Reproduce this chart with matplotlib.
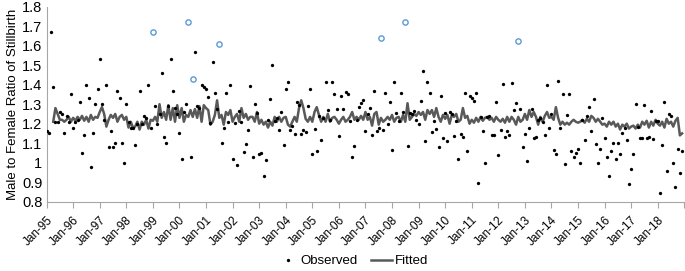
import numpy as np
import pandas as pd
import matplotlib
matplotlib.use("Agg")
import matplotlib.pyplot as plt

plt.rcParams['font.family'] = ['Liberation Sans', 'DejaVu Sans']

# Monthly male/female stillbirth ratio, Jan-1995 .. Dec-2018 (one row per year)
observed = [
    1.16, 1.15, 1.67, 1.39, 1.21, 1.21, 1.26, 1.25, 1.15, 1.24, 1.21, 1.35,    # 1995
    1.18, 1.21, 1.22, 1.31, 1.05, 1.14, 1.40, 1.33, 0.98, 1.15, 1.30, 1.38,    # 1996
    1.53, 1.30, 1.22, 1.40, 1.08, 1.16, 1.08, 1.10, 1.37, 1.33, 1.10, 1.00,    # 1997
    1.30, 1.21, 1.18, 1.18, 1.09, 1.20, 1.37, 1.20, 1.24, 1.23, 1.40, 1.18,    # 1998
    1.67, 1.29, 1.20, 1.25, 1.46, 1.13, 1.10, 1.29, 1.53, 1.37, 1.28, 1.25,    # 1999
    1.15, 1.02, 1.26, 1.30, 1.72, 1.03, 1.43, 1.57, 1.29, 1.28, 1.40, 1.39,    # 2000
    1.38, 1.335, 1.205, 1.515, 1.355, 1.275, 1.61, 1.10, 1.18, 1.355, 1.21, 1.40,  # 2001
    1.02, 1.205, 0.99, 1.265, 1.21, 1.055, 1.095, 1.17, 1.395, 1.03, 1.30, 1.255,  # 2002
    1.045, 1.05, 0.93, 1.015, 1.22, 1.325, 1.50, 1.215, 1.23, 1.17, 1.26, 1.09,   # 2003
    1.38, 1.415, 1.17, 1.19, 1.145, 1.31, 1.295, 1.145, 1.17, 1.155, 1.29, 1.38,  # 2004
    1.045, 1.175, 1.06, 1.24, 1.115, 1.23, 1.415, 1.27, 1.22, 1.415, 1.35, 1.275, # 2005
    1.135, 1.34, 1.275, 1.365, 1.35, 1.215, 1.03, 1.085, 1.22, 1.285, 1.305, 1.32, # 2006
    1.16, 1.25, 1.28, 1.14, 1.37, 1.16, 1.18, 1.64, 1.17, 1.36, 1.20, 1.31,    # 2007
    1.065, 1.415, 1.255, 1.215, 1.355, 1.26, 1.72, 1.085, 1.255, 1.25, 1.265, 1.22, # 2008
    1.20, 1.315, 1.47, 1.11, 1.415, 1.355, 1.155, 1.215, 1.175, 1.08, 1.34, 1.125, # 2009
    1.255, 1.11, 1.26, 1.25, 1.135, 1.215, 1.02, 1.145, 1.13, 1.355, 1.06, 1.34,  # 2010
    1.33, 1.315, 1.355, 0.895, 1.235, 1.165, 1.00, 1.235, 1.24, 1.14, 1.14, 1.31, # 2011
    1.04, 1.17, 1.405, 1.13, 1.16, 1.14, 1.41, 1.27, 1.305, 1.625, 1.275, 1.08,   # 2012
    1.145, 1.01, 1.18, 1.275, 1.125, 1.13, 1.22, 1.23, 1.21, 1.14, 1.40, 1.18,   # 2013
    1.25, 1.065, 1.045, 1.42, 1.18, 1.35, 0.995, 1.245, 1.35, 1.06, 1.03, 1.05,  # 2014
    1.07, 1.00, 1.22, 1.115, 1.24, 1.285, 1.165, 1.325, 1.095, 1.00, 1.07, 1.23,  # 2015
    1.125, 1.03, 0.93, 1.06, 1.10, 1.02, 1.10, 1.045, 1.15, 1.18, 1.115, 0.89,   # 2016
    0.965, 1.045, 1.30, 1.185, 1.125, 1.125, 1.295, 1.125, 1.13, 1.265, 1.12, 1.215, # 2017
    1.215, 0.845, 1.09, 1.31, 0.955, 1.25, 1.24, 1.00, 0.875, 1.07, 0.945, 1.06,  # 2018
]

# months flagged as outliers (drawn as open blue circles)
outlier_months = ['1999-01', '2000-05', '2000-07', '2001-07', '2007-08', '2008-07', '2012-10']

fitted = [
    np.nan, np.nan, np.nan, 1.21, 1.28, 1.25, 1.22, 1.22, 1.21, 1.22, 1.235, 1.21,   # 1995
    1.23, 1.215, 1.235, 1.22, 1.24, 1.215, 1.235, 1.21, 1.245, 1.22, 1.235, 1.23,    # 1996
    1.26, 1.285, 1.25, 1.185, 1.22, 1.245, 1.23, 1.25, 1.21, 1.235, 1.245, 1.22,     # 1997
    1.235, 1.18, 1.21, 1.18, 1.185, 1.21, 1.17, 1.21, 1.195, 1.22, 1.175, 1.22,      # 1998
    1.215, 1.235, 1.21, 1.30, 1.23, 1.26, 1.22, 1.295, 1.22, 1.28, 1.21, 1.295,      # 1999
    1.23, 1.28, 1.21, 1.245, 1.235, 1.27, 1.235, 1.275, 1.23, 1.29, 1.21, 1.295,     # 2000
    1.28, 1.27, 1.195, 1.21, 1.245, 1.32, 1.23, 1.245, 1.195, 1.26, 1.245, 1.27,     # 2001
    1.21, 1.235, 1.25, 1.21, 1.28, 1.23, 1.25, 1.22, 1.235, 1.235, 1.21, 1.26,       # 2002
    1.20, 1.22, 1.195, 1.21, 1.18, 1.21, 1.19, 1.235, 1.21, 1.235, 1.21, 1.23,       # 2003
    1.235, 1.195, 1.185, 1.21, 1.235, 1.21, 1.28, 1.32, 1.28, 1.225, 1.21, 1.235,    # 2004
    1.21, 1.26, 1.285, 1.245, 1.21, 1.235, 1.21, 1.25, 1.21, 1.23, 1.235, 1.22,      # 2005
    1.20, 1.22, 1.235, 1.21, 1.22, 1.235, 1.26, 1.22, 1.235, 1.22, 1.24, 1.22,       # 2006
    1.26, 1.22, 1.235, 1.19, 1.25, 1.26, 1.195, 1.23, 1.21, 1.22, 1.235, 1.22,       # 2007
    1.245, 1.21, 1.23, 1.235, 1.21, 1.245, 1.21, 1.305, 1.22, 1.235, 1.25, 1.24,     # 2008
    1.26, 1.245, 1.26, 1.22, 1.27, 1.25, 1.27, 1.235, 1.28, 1.235, 1.21, 1.245,      # 2009
    1.225, 1.245, 1.20, 1.245, 1.235, 1.25, 1.21, 1.22, 1.28, 1.23, 1.24, 1.20,      # 2010
    1.22, 1.205, 1.23, 1.21, 1.235, 1.215, 1.23, 1.235, 1.22, 1.23, 1.21, 1.235,     # 2011
    1.22, 1.21, 1.225, 1.205, 1.235, 1.21, 1.235, 1.22, 1.195, 1.235, 1.21, 1.22,    # 2012
    1.25, 1.22, 1.27, 1.235, 1.26, 1.235, 1.195, 1.235, 1.21, 1.24, 1.26, 1.23,      # 2013
    1.235, 1.22, 1.285, 1.23, 1.195, 1.21, 1.195, 1.205, 1.195, 1.21, 1.22, 1.21,    # 2014
    1.205, 1.21, 1.22, 1.205, 1.225, 1.21, 1.24, 1.23, 1.21, 1.225, 1.21, 1.195,     # 2015
    1.20, 1.185, 1.21, 1.195, 1.21, 1.185, 1.20, 1.17, 1.195, 1.185, 1.20, 1.175,    # 2016
    1.185, 1.19, 1.175, 1.195, 1.18, 1.21, 1.195, 1.215, 1.18, 1.21, 1.19, 1.22,     # 2017
    1.20, 1.19, 1.21, 1.18, 1.225, 1.20, 1.21, 1.185, 1.215, 1.23, 1.14, 1.15,       # 2018
]

tick_labels = ['Jan-%02d' % (y % 100) for y in range(1995, 2019)]

months = pd.date_range('1995-01-01', periods=len(observed), freq='MS')
df = pd.DataFrame({'observed': observed, 'fitted': fitted}, index=months)
df['t'] = np.arange(len(df))
is_out = df.index.strftime('%Y-%m').isin(outlier_months)

fig = plt.figure(figsize=(6.85, 2.71), dpi=100)
ax = fig.add_axes([0.068, 0.256, 0.931, 0.719])

normal = df[~is_out]
out = df[is_out]
ax.plot(df['t'], df['fitted'], color='#595959', lw=1.8, label='Fitted', zorder=2)
ax.plot(normal['t'], normal['observed'], 'o', ms=2.4, color='black', mec='none',
        label='Observed', zorder=3)
ax.plot(out['t'], out['observed'], 'o', ms=3.8, mfc='none', mec='#5B9BD5', mew=1.0, zorder=3)

ax.set_xlim(0, 288)
ax.set_ylim(0.8, 1.8)
ax.set_yticks(np.arange(0.8, 1.81, 0.1))
ax.yaxis.set_major_formatter(plt.FuncFormatter(lambda v, p: '1' if abs(v - 1) < 1e-9 else '%.1f' % v))
ax.set_xticks(np.arange(0, 289, 12))
ax.set_xticklabels(tick_labels + [''], rotation=45, ha='right', rotation_mode='anchor', fontsize=8.5)
ax.tick_params(axis='y', length=0, labelsize=10.5, pad=3)
ax.tick_params(axis='x', length=4, color='#A6A6A6', pad=5)
ax.set_ylabel('Male to Female Ratio of Stillbirth', fontsize=9.5, labelpad=2)

for s in ['top', 'right']:
    ax.spines[s].set_visible(False)
ax.spines['left'].set_color('#A6A6A6')
ax.spines['bottom'].set_color('#A6A6A6')

h, l = ax.get_legend_handles_labels()
fig.legend([h[1], h[0]], [l[1], l[0]], loc='lower center', bbox_to_anchor=(0.515, -0.03),
           ncol=2, frameon=False, fontsize=9.5, handlelength=1.6, columnspacing=1.0,
           handletextpad=0.15)

fig.savefig('out.png', dpi=100)
